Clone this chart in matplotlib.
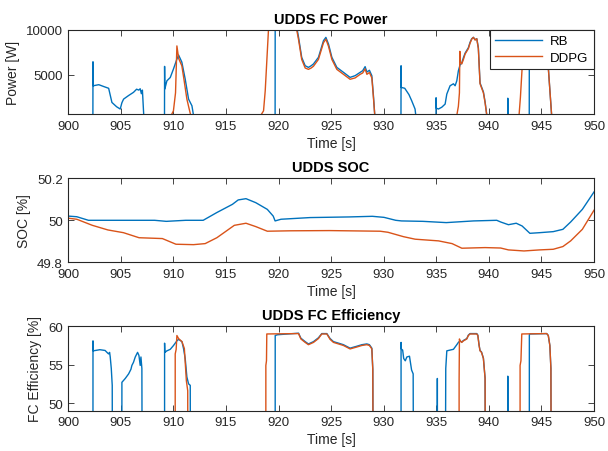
import matplotlib
matplotlib.use("Agg")
import matplotlib.pyplot as plt

RB_COLOR = "#0072BD"
DDPG_COLOR = "#D95319"
AX_COLOR = "#262626"

# FC power [W]; zeros where the stack is off, values above 10000 run off the top
rb_power_t = [900, 902.34, 902.35, 902.37, 902.9, 903.36, 903.84, 904.15, 904.6, 904.94,
              905.1, 905.26, 905.74, 906.2, 906.5, 906.7, 906.84, 906.95, 907.05, 907.2,
              909.15, 909.16, 909.18, 909.38, 909.7, 910.0, 910.33, 910.49, 910.8, 911.12,
              911.44, 911.76, 911.98, 919.67, 919.68, 921.5, 921.74, 921.9, 922.2, 922.53,
              922.84, 923.1, 923.32, 923.79, 924.27, 924.5, 924.75, 925.07, 925.54, 926.17,
              926.8, 927.28, 927.76, 928.0, 928.23, 928.4, 928.64, 928.87, 929.02, 929.18,
              931.64, 931.65, 931.67, 932.0, 932.2, 932.4, 932.66, 932.98, 933.1,
              934.97, 934.98, 935.0, 935.2, 935.52, 935.84, 936.0, 936.31, 936.63, 936.79,
              936.95, 937.1, 937.26, 937.42, 937.58, 937.74, 938.05, 938.21, 938.37, 938.53,
              938.69, 938.85, 939.0, 939.16, 939.48, 939.64, 939.86,
              941.79, 941.8, 941.83, 941.86, 943.84, 943.85, 945.4, 946.0, 950]
rb_power = [0, 0, 6440, 3780, 3900, 3700, 3500, 1930, 1450, 1200,
            1900, 2300, 2700, 3050, 3400, 3300, 3450, 2900, 3300, 0,
            0, 5930, 3420, 4330, 4700, 5630, 6740, 7190, 6400, 4520,
            2300, 1560, 0, 0, 13000, 12000, 10200, 9150, 6930, 6000,
            5820, 6000, 6200, 6930, 8780, 9150, 8400, 6930, 5820, 5270,
            4710, 4900, 5270, 5450, 5900, 5300, 5500, 4900, 2700, 0,
            0, 6000, 3600, 3500, 3150, 2800, 2120, 1200, 0,
            0, 2450, 1300, 1200, 1400, 1750, 2860, 3780, 4000, 3780,
            4330, 5440, 6100, 6300, 6900, 7400, 8000, 8600, 9000, 9150,
            8900, 9000, 8000, 4100, 3100, 2000, 0,
            0, 2400, 900, 0, 0, 13000, 10000, 0, 0]

ddpg_power_t = [900, 909.4, 909.7, 910.0, 910.2, 910.33, 910.5, 910.8, 911.0, 911.28,
                911.5, 911.75, 917.9, 918.2, 918.57, 918.73, 918.9, 919.04, 919.2, 921.5,
                921.74, 921.9, 922.2, 922.53, 922.84, 923.1, 923.32, 923.79, 924.27, 924.5,
                924.75, 925.07, 925.54, 926.17, 926.8, 927.28, 927.76, 928.0, 928.23, 928.4,
                928.64, 928.87, 929.02, 929.18, 936.1, 936.5, 936.95, 937.1, 937.2, 937.24,
                937.3, 937.42, 937.58, 937.74, 938.05, 938.21, 938.37, 938.53, 938.69, 938.85,
                939.0, 939.16, 939.48, 939.64, 939.86, 942.85, 943.0, 943.2, 943.3, 945.4,
                946.0, 950]
ddpg_power = [0, 0, 300, 1000, 3000, 8200, 6800, 6000, 4500, 2300,
              1200, 0, 0, 300, 1000, 3220, 6930, 10000, 12000, 12000,
              9900, 8900, 6700, 5750, 5600, 5750, 5950, 6700, 8550, 8950,
              8150, 6700, 5600, 5050, 4500, 4650, 5050, 5200, 5650, 5050,
              5250, 4650, 2500, 0, 0, 200, 500, 1500, 3000, 7600,
              6400, 6200, 6700, 7300, 7900, 8500, 8950, 9150, 8850, 9000,
              7900, 4000, 3000, 1900, 0, 200, 2500, 6500, 12000, 10000,
              0, 0]

# Battery SOC [%]
rb_soc_t = [900, 900.81, 901.92, 904.51, 908.21, 909.32, 911.17, 912.83, 914.13, 915.61,
            916.16, 916.9, 917.83, 918.93, 919.49, 919.67, 920.23, 923.0, 926.7, 928.92,
            930.03, 931.14, 931.69, 933.73, 935.95, 938.54, 940.75, 941.12, 941.86, 942.6,
            943.16, 943.9, 944.82, 946.12, 947.04, 947.78, 948.89, 950]
rb_soc = [50.02, 50.017, 50.0, 50.0, 50.0, 49.995, 50.0, 50.0, 50.037, 50.076,
          50.097, 50.103, 50.084, 50.052, 50.02, 49.997, 50.005, 50.013, 50.016, 50.019,
          50.014, 50.0, 49.997, 49.995, 49.989, 49.997, 50.0, 49.992, 49.979, 49.986,
          49.973, 49.938, 49.941, 49.946, 49.957, 49.992, 50.052, 50.135]

ddpg_soc_t = [900, 900.81, 902.29, 903.77, 905.25, 906.73, 908.95, 910.24, 911.91, 913.02,
              914.13, 915.79, 916.9, 917.83, 918.93, 921.15, 924.85, 929.66, 930.4, 931.88,
              932.99, 935.21, 936.5, 937.43, 939.64, 941.12, 941.86, 943.34, 944.82, 946.12,
              947.04, 947.78, 948.89, 950]
ddpg_soc = [50.01, 50.005, 49.976, 49.954, 49.941, 49.917, 49.913, 49.886, 49.884, 49.889,
            49.917, 49.976, 49.986, 49.97, 49.948, 49.95, 49.951, 49.948, 49.943, 49.922,
            49.91, 49.902, 49.889, 49.867, 49.87, 49.868, 49.859, 49.854, 49.859, 49.862,
            49.875, 49.902, 49.957, 50.048]

# FC efficiency [%]
rb_eff_t = [900, 902.34, 902.35, 902.37, 902.8, 903.0, 903.5, 903.68, 903.83, 903.93,
            903.99, 904.09, 904.18, 904.25, 905.09, 905.1, 905.42, 905.74, 905.96, 906.05,
            906.2, 906.37, 906.59, 906.72, 906.84, 906.91, 907.0, 907.1,
            909.15, 909.16, 909.18, 909.38, 909.7, 910.01, 910.33, 910.49, 910.81, 910.96,
            911.12, 911.28, 911.44, 911.6, 911.66, 919.67, 919.68, 919.9, 921.9, 922.12,
            922.53, 922.84, 923.32, 923.79, 924.11, 924.59, 924.9, 925.22, 925.7, 926.17,
            926.8, 927.44, 927.92, 928.39, 928.64, 928.87, 928.96, 929.09,
            931.64, 931.65, 931.67, 931.8, 931.9, 932.05, 932.2, 932.45, 932.65, 932.8, 932.9,
            935.09, 935.1, 935.12, 935.76, 935.9, 936.0, 936.31, 936.63, 936.79, 936.95,
            937.1, 937.26, 937.42, 937.58, 937.9, 938.05, 938.21, 938.85, 938.95, 939.07,
            939.16, 939.3, 939.48, 939.64, 939.73, 941.79, 941.8, 941.82, 943.84, 943.85,
            943.9, 945.5, 945.65, 945.8, 945.9, 946.0, 950]
rb_eff = [0, 0, 58.1, 56.8, 56.9, 56.95, 56.85, 56.6, 56.4, 56.6,
          56.0, 54.5, 52.3, 0, 0, 52.7, 53.2, 53.8, 54.4, 54.9,
          55.3, 56.0, 56.6, 56.2, 54.9, 56.0, 54.5, 0,
          0, 57.8, 56.6, 56.8, 57.0, 57.5, 58.1, 58.3, 58.0, 57.1,
          55.8, 53.4, 52.5, 52.3, 0, 0, 58.8, 58.9, 59.1, 58.45,
          58.0, 57.7, 58.0, 58.5, 59.05, 59.05, 58.4, 58.0, 57.8, 57.6,
          57.15, 57.4, 57.6, 57.7, 57.6, 57.15, 54.4, 0,
          0, 57.9, 57.05, 56.9, 55.8, 55.5, 56.0, 56.1, 54.3, 53.8, 0,
          0, 53.2, 0, 0, 54.5, 56.8, 56.9, 57.0, 57.3, 57.6,
          57.9, 58.1, 57.95, 58.15, 58.4, 58.85, 59.05, 59.05, 58.85, 57.55,
          56.85, 56.65, 55.85, 53.25, 0, 0, 53.5, 0, 0, 58.9,
          59.0, 59.05, 58.8, 57.5, 54.5, 0, 0]

ddpg_eff_t = [900, 910.16, 910.17, 910.26, 910.33, 910.49, 910.81, 911.04, 911.23, 911.36,
              911.41, 918.78, 918.79, 918.85, 918.88, 921.9, 922.12, 922.53, 922.84, 923.32,
              923.79, 924.11, 924.59, 924.9, 925.22, 925.7, 926.17, 926.8, 927.44, 927.92,
              928.39, 928.64, 928.87, 928.96, 929.09, 937.16, 937.17, 937.2, 937.26, 937.42,
              937.58, 937.9, 938.05, 938.21, 938.85, 938.95, 939.07, 939.16, 939.3, 939.48,
              939.64, 939.73, 942.96, 942.97, 943.05, 943.13, 945.5, 945.65, 945.8, 945.9,
              946.0, 950]
ddpg_eff = [0, 0, 56.4, 57.0, 58.8, 58.4, 58.0, 57.1, 52.9, 51.6,
            0, 0, 54.9, 55.5, 59.0, 59.05, 58.35, 57.9, 57.6, 57.9,
            58.4, 59.0, 59.0, 58.3, 57.9, 57.7, 57.5, 57.05, 57.3, 57.5,
            57.6, 57.5, 57.05, 54.4, 0, 0, 53.0, 58.35, 58.1, 57.9,
            58.1, 58.35, 58.8, 59.0, 59.0, 58.8, 57.5, 56.8, 56.6, 55.8,
            53.2, 0, 0, 54.9, 55.5, 59.0, 59.05, 58.8, 57.5, 54.5,
            0, 0]

x_ticks = [900, 905, 910, 915, 920, 925, 930, 935, 940, 945, 950]

plt.rcParams["font.family"] = ["Liberation Sans", "DejaVu Sans"]

fig = plt.figure(figsize=(6.08, 4.52), dpi=100)
ax_pow = fig.add_axes([0.1123, 0.7456, 0.8647, 0.1865])
ax_soc = fig.add_axes([0.1123, 0.4175, 0.8647, 0.1858])
ax_eff = fig.add_axes([0.1123, 0.0892, 0.8647, 0.1867])


def style_axes(ax, title, ylabel):
    ax.set_xlim(900, 950)
    ax.set_xticks(x_ticks)
    ax.set_title(title, fontsize=10.5, fontweight="bold", pad=5)
    ax.set_xlabel("Time [s]", fontsize=10, color=AX_COLOR, labelpad=3)
    ax.set_ylabel(ylabel, fontsize=10, color=AX_COLOR, labelpad=4)
    ax.tick_params(direction="in", top=True, right=True, length=4, width=0.6,
                   colors=AX_COLOR, labelsize=9.5, pad=4)
    for sp in ax.spines.values():
        sp.set_color(AX_COLOR)
        sp.set_linewidth(0.8)


ax_pow.plot(rb_power_t, rb_power, color=RB_COLOR, lw=1.0, label="RB")
ax_pow.plot(ddpg_power_t, ddpg_power, color=DDPG_COLOR, lw=1.0, label="DDPG")
ax_pow.set_ylim(650, 10000)
ax_pow.set_yticks([5000, 10000])
style_axes(ax_pow, "UDDS FC Power", "Power [W]")
leg = ax_pow.legend(loc="upper right", borderaxespad=0, fontsize=9.5, fancybox=False,
                    framealpha=1, edgecolor=AX_COLOR, handlelength=3.6,
                    handletextpad=0.6, labelspacing=0.35, borderpad=0.4)
leg.get_frame().set_linewidth(0.8)

ax_soc.plot(rb_soc_t, rb_soc, color=RB_COLOR, lw=1.0)
ax_soc.plot(ddpg_soc_t, ddpg_soc, color=DDPG_COLOR, lw=1.0)
ax_soc.set_ylim(49.8, 50.2)
ax_soc.set_yticks([49.8, 50.0, 50.2])
ax_soc.set_yticklabels(["49.8", "50", "50.2"])
style_axes(ax_soc, "UDDS SOC", "SOC [%]")

ax_eff.plot(rb_eff_t, rb_eff, color=RB_COLOR, lw=1.0)
ax_eff.plot(ddpg_eff_t, ddpg_eff, color=DDPG_COLOR, lw=1.0)
ax_eff.set_ylim(49, 60)
ax_eff.set_yticks([50, 55, 60])
style_axes(ax_eff, "UDDS FC Efficiency", "FC Efficiency [%]")

fig.savefig("out.png", dpi=100, facecolor="white")
